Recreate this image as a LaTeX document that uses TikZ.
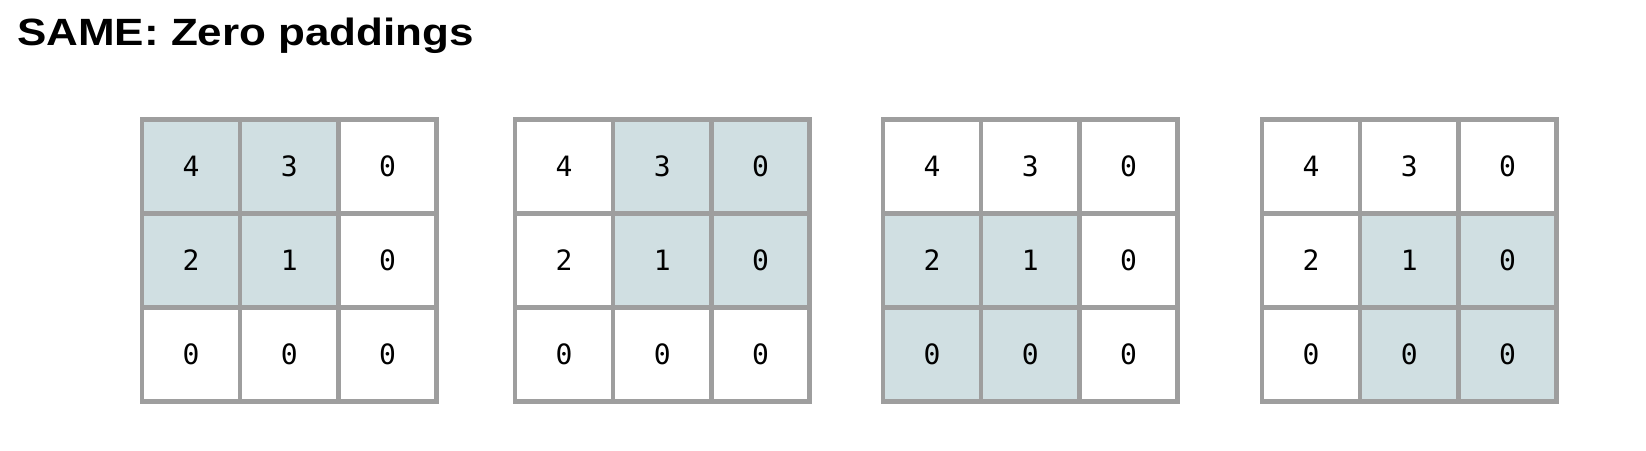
\documentclass[tikz,border=0pt]{standalone}
\usepackage{fontspec}
\setmainfont{Liberation Sans}
\newfontfamily\celldigits{DejaVu Sans Mono}
\usetikzlibrary{positioning}
\definecolor{rastergray}{HTML}{9E9E9E}
\definecolor{prozor}{HTML}{D0DFE2}

\begin{document}
\begin{tikzpicture}[x=1pt,y=-1pt,
  celija/.style={draw=rastergray, line width=4.5pt, minimum width=98.2pt,
    minimum height=94pt, inner sep=0pt,
    font=\celldigits\fontsize{28}{28}\selectfont}]
\useasboundingbox (0,0) rectangle (1646,450);
\node[anchor=base west, inner sep=0pt,
  font=\bfseries\fontsize{38}{38}\selectfont] (naslov) at (17,45)
  {\scalebox{1.157}[1]{SAME: Zero paddings}};
% four positions of the 2x2 window
\foreach \g/\gx/\ro/\co in {1/142/0/0, 2/515/0/1, 3/883/1/0, 4/1262/1/1} {
  \foreach \r/\vals in {1/{4,3,0}, 2/{2,1,0}, 3/{0,0,0}} {
    \foreach \v [count=\c] in \vals {
      \pgfmathtruncatemacro\uprozoru{(\r>\ro)*(\r<=\ro+2)*(\c>\co)*(\c<=\co+2)}
      \ifnum\uprozoru=1 \def\boja{prozor}\else\def\boja{white}\fi
      \node[celija, fill=\boja] (g\g-\r\c)
        at ({\gx+(\c-0.5)*98.2},{119.5+(\r-0.5)*94}) {\v};
    }
  }
}
\end{tikzpicture}
\end{document}
